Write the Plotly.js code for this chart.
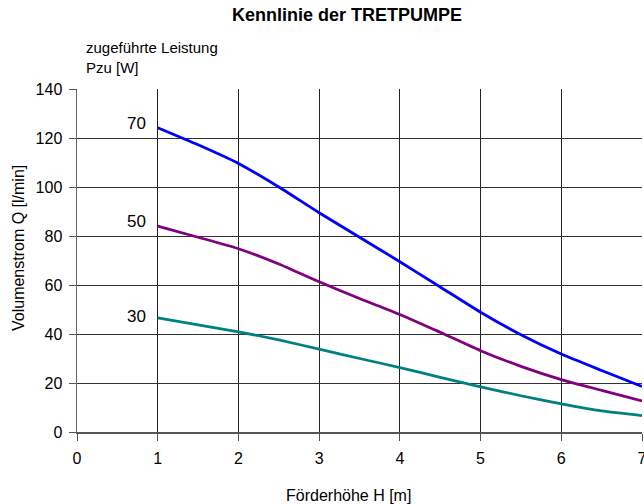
<!DOCTYPE html>
<html>
<head>
<meta charset="utf-8">
<script src="https://cdn.plot.ly/plotly-3.0.1.min.js"></script>
<style>html,body{margin:0;padding:0;background:#fff;}#chart{width:644px;height:504px;}</style>
</head>
<body>
<div id="chart"></div>
<script>
// Förderhöhe H [m]
const hValues = [1, 1.5, 2, 2.5, 3, 3.5, 4, 4.5, 5, 5.5, 6, 6.5, 7];
// Volumenstrom Q [l/min] for each supplied power Pzu [W]
const q70 = [124.2, 117.2, 109.6, 100.0, 89.5, 79.5, 69.5, 59.2, 48.9, 39.7, 31.8, 25.1, 18.6];
const q50 = [84.0, 79.5, 74.8, 68.6, 61.3, 54.5, 48.0, 40.7, 33.2, 26.8, 21.4, 17.0, 12.7];
const q30 = [46.6, 43.7, 40.9, 37.6, 33.8, 30.0, 26.3, 22.3, 18.4, 14.8, 11.5, 8.6, 6.7];
const seriesNames = ['70', '50', '30'];
const seriesColors = ['#0000FF', '#800080', '#008080'];
const labelX = 0.74;
const labelY = [126, 86, 47];
const xTicks = [0, 1, 2, 3, 4, 5, 6, 7];
const yTicks = [0, 20, 40, 60, 80, 100, 120, 140];

const font = 'Liberation Sans, Arial, sans-serif';
const series = [q70, q50, q30];
const traces = series.map((q, i) => ({
  x: hValues, y: q, type: 'scatter', mode: 'lines', name: seriesNames[i],
  line: {color: seriesColors[i], width: 2.75, shape: 'spline', smoothing: 0.6},
  hoverinfo: 'skip', cliponaxis: false
}));

const annotations = seriesNames.map((n, i) => ({
  x: labelX, y: labelY[i], xref: 'x', yref: 'y', text: n, showarrow: false,
  font: {family: font, size: 17, color: '#000'}, xanchor: 'center', yanchor: 'middle'
}));
// subtitle (legend heading)
annotations.push({
  x: (84 - 77) / 565, y: (432 - 37) / 343, xref: 'paper', yref: 'paper',
  text: 'zugeführte Leistung<br>Pzu [W]', showarrow: false, align: 'left',
  xanchor: 'left', yanchor: 'top', font: {family: font, size: 15, color: '#000'}
});
// axis titles
annotations.push({
  x: 0.5 - 0.02, y: (432 - 495) / 343, xref: 'paper', yref: 'paper', text: 'Förderhöhe H [m]',
  showarrow: false, xanchor: 'center', yanchor: 'middle', font: {family: font, size: 16, color: '#000'}
});
annotations.push({
  x: (18 - 77) / 565, y: (432 - 248) / 343, xref: 'paper', yref: 'paper', text: 'Volumenstrom Q [l/min]',
  showarrow: false, textangle: -90, xanchor: 'center', yanchor: 'middle', font: {family: font, size: 16, color: '#000'}
});

const layout = {
  width: 644, height: 504,
  margin: {l: 77, r: 2, t: 89, b: 72},
  paper_bgcolor: '#fff', plot_bgcolor: '#fff',
  showlegend: false,
  title: {text: '<b>Kennlinie der TRETPUMPE</b>', xref: 'container', x: 347 / 644, xanchor: 'center',
          yref: 'container', y: 1 - 15 / 504, yanchor: 'middle',
          font: {family: font, size: 18, color: '#000'}},
  xaxis: {
    range: [0, 7], tickvals: xTicks, showgrid: true, gridcolor: '#222', gridwidth: 1,
    zeroline: false, showline: true, linecolor: '#555', linewidth: 2,
    ticks: 'outside', ticklen: 7, tickcolor: '#555', ticklabelstandoff: 4,
    ticklabeloverflow: 'allow',
    tickfont: {family: font, size: 16, color: '#000'}
  },
  yaxis: {
    range: [0, 140], tickvals: yTicks, showgrid: true, gridcolor: '#333', gridwidth: 1,
    zeroline: false, showline: true, linecolor: '#666', linewidth: 1.5,
    ticks: 'outside', ticklen: 7, tickcolor: '#555', ticklabelstandoff: 3,
    tickfont: {family: font, size: 16, color: '#000'}
  },
  annotations: annotations
};

Plotly.newPlot('chart', traces, layout, {staticPlot: true, displayModeBar: false});
</script>
</body>
</html>
